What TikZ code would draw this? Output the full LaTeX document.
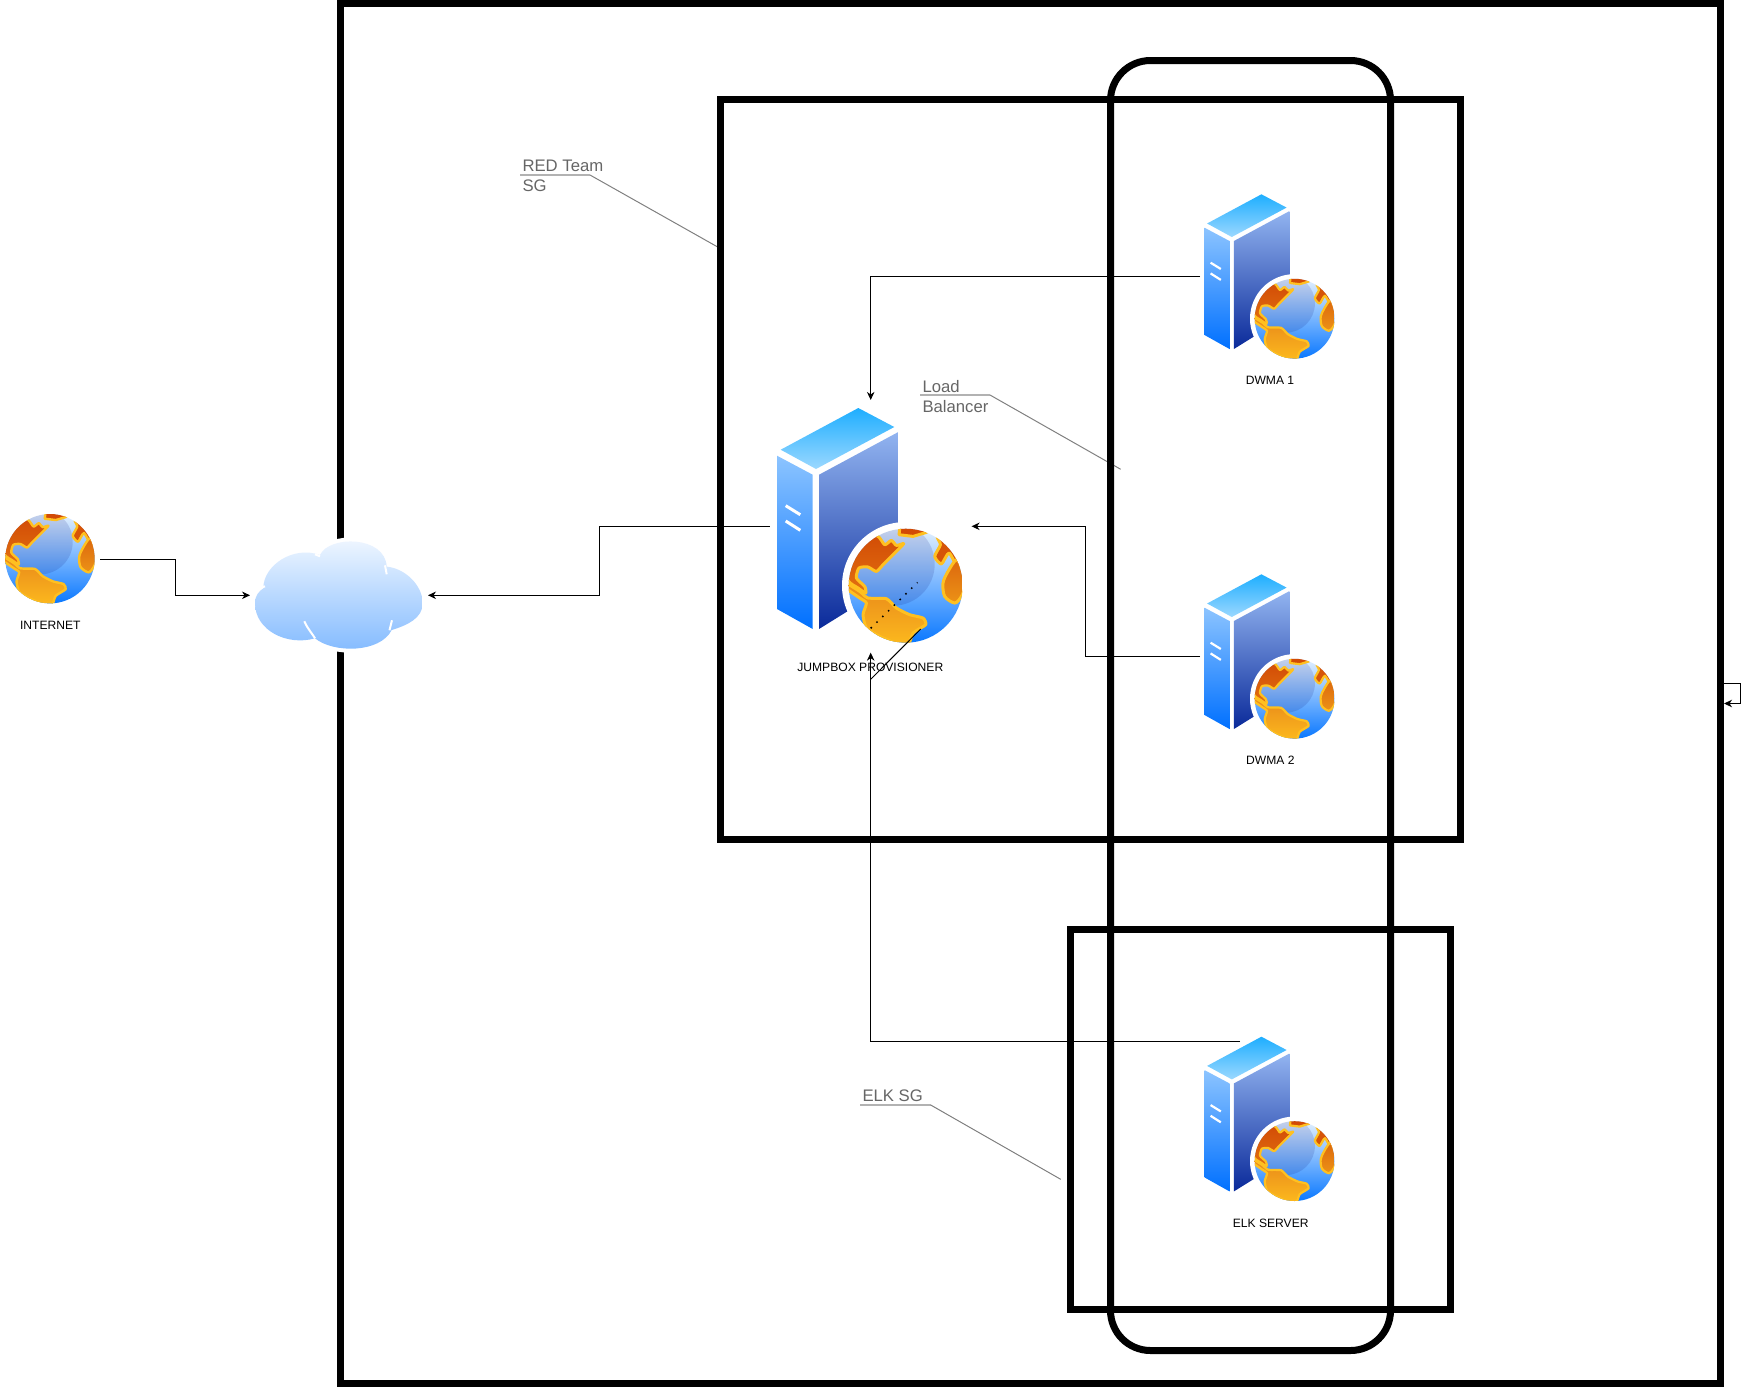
\documentclass[tikz,border=0pt]{standalone}
\usepackage{fontspec}
\setmainfont{Liberation Sans}
\usetikzlibrary{arrows.meta}

\definecolor{globetop}{HTML}{E2F0FF}
\definecolor{globemid}{HTML}{66AEFF}
\definecolor{globebot}{HTML}{0A78FF}
\definecolor{landrim}{HTML}{FFC020}
\definecolor{notegray}{HTML}{666666}

\tikzset{
	framebox/.style={draw,line width=7pt,inner sep=0pt},
	portbox/.style={inner sep=0pt,outer sep=0pt},
	iconlabel/.style={font=\fontsize{12.1}{14}\selectfont,inner sep=0pt},
	notelabel/.style={font=\fontsize{16.7}{20}\selectfont,text=notegray,align=left,anchor=north west,inner sep=0pt},
	link/.style={line width=1pt,-{Stealth[length=8pt,width=7.5pt,inset=2.5pt]}},
	calloutbar/.style={draw=black!30,line width=2pt},
	calloutlead/.style={draw=black!50,line width=1pt},
	pics/earth/.style={code={
		\shade[top color=globetop,middle color=globemid,bottom color=globebot] (0,0) circle (57);
		\begin{scope}
			\clip (0,0) circle (57);
			\fill[black!60!blue,opacity=.13] (-12.7,-21.7) circle (41.7);
			\shadedraw[draw=landrim,line width=#1,line join=round,top color={rgb,255:red,208;green,72;blue,5},bottom color={rgb,255:red,226;green,112;blue,16}] plot[smooth cycle,tension=.4] coordinates {(-27.7,-49.3) (-21,-41) (-14.3,-45.3) (-9.3,-40.3) (-2,-42) (-12.7,-31) (-22.7,-21) (-29.3,-14.3) (-37.7,-18.7) (-46.7,-17.7) (-49.3,-7.7) (-41,.7) (-40,7.3) (-47.7,2.3) (-57,-4.3) (-62,-20) (-45,-55)};
			\filldraw[draw=landrim,line width=#1,line join=round,fill={rgb,255:red,210;green,74;blue,5}] (-6,-63) -- (-6,-57) -- (-6.7,-51) -- (7.3,-49.3) -- (20.7,-53.3) -- (17,-63) -- cycle;
			\filldraw[draw=landrim,line width=#1,line join=round,fill={rgb,255:red,214;green,84;blue,8}] plot[smooth cycle,tension=.4] coordinates {(31.3,-49.3) (34.7,-41) (29,-29.3) (35.7,-21.7) (43.3,-32.7) (52,-19) (60,-26) (54,-49) (37,-56)};
			\shadedraw[draw=landrim,line width=#1,top color={rgb,255:red,220;green,104;blue,14},bottom color={rgb,255:red,236;green,146;blue,22}] plot[smooth cycle,tension=.5] coordinates {(50.7,-26) (42.3,-14.3) (37.3,-2.7) (39,10.7) (49,17.3) (55.7,10.7) (60,-2.7) (56,-17.7)};
			\shadedraw[draw=landrim,line width=#1,line join=round,top color={rgb,255:red,232;green,136;blue,26},bottom color={rgb,255:red,253;green,187;blue,30}] plot[smooth cycle,tension=.35] coordinates {(-60,-2.7) (-46,5.7) (-37.7,12.3) (-19.3,13) (-9.3,22.3) (4,29) (17.3,32.3) (20,39) (7.3,47.3) (.7,61) (-26,50.7) (-39.3,42.3) (-42.7,29) (-39.3,17.3) (-46,12.3) (-60,2.3)};
		\end{scope}
	}},
	pics/serverglobe/.style args={#1/#2}{code={
		\shade[top color={rgb,255:red,30;green,174;blue,255},bottom color={rgb,255:red,155;green,216;blue,255}] (3.7,41.7) -- (81.3,0) -- (117.3,19) -- (39,61) -- cycle;
		\shade[top color={rgb,255:red,140;green,196;blue,255},bottom color={rgb,255:red,0;green,112;blue,255}] (0,47.7) -- (35.7,66.7) -- (35.7,221) -- (0,201) -- cycle;
		\shade[top color={rgb,255:red,146;green,180;blue,240},bottom color={rgb,255:red,10;green,42;blue,154}] (42,66.7) -- (121.3,24) -- (121.3,171.7) -- (42,221) -- cycle;
		\draw[white,line width=#1 pt] (8.7,97.7) -- (23.3,106.7);
		\draw[white,line width=#1 pt] (8.7,113) -- (23.3,122.3);
		\fill[white] (128.7,177.7) circle (63.7);
		\pic[scale=#2] at (128.7,177.7) {earth=#1};
	}},
	pics/cloudshape/.style={code={
		\shade[preaction={draw=white,line width=8pt},top color={rgb,255:red,242;green,248;blue,255},bottom color={rgb,255:red,130;green,186;blue,255}]
			(-75.7,-7) .. controls (-75.7,-30) and (-45.7,-50) .. (-19,-40.3)
			.. controls (-10,-60) and (46,-60) .. (47.7,-28.7)
			.. controls (66,-27) and (83.7,-10) .. (83.7,8)
			.. controls (83.7,23) and (68,30) .. (52.7,34.7)
			.. controls (41,58) and (-5.7,58) .. (-24,43)
			.. controls (-52,51) and (-84,35) .. (-84,8)
			.. controls (-84,0) and (-80,-4) .. (-75.7,-7) -- cycle;
		\draw[white,line width=2pt] (-79,-7) -- (-74,-9);
		\draw[white,line width=2pt] (-24,-41) -- (-19,-39);
		\draw[white,line width=2pt] (46,-30) -- (47.7,-21);
		\draw[white,line width=2pt] (53,25) -- (50.5,35);
		\draw[white,line width=2pt] (-34.7,26) .. controls (-31,34) and (-27,38) .. (-24,43);
	}}
}

\begin{document}
\begin{tikzpicture}[x=1pt,y=-1pt]
	\useasboundingbox (0,0) rectangle (1750,1387);

	\node[portbox,minimum width=100pt,minimum height=100pt] (internet) at (50,559.3) {};
	\node[portbox,minimum width=178pt,minimum height=110pt] (cloudgate) at (339,595.3) {};
	\node[portbox,minimum width=201.7pt,minimum height=252.7pt] (jumpbox) at (870.7,526.3) {};
	\node[portbox,minimum width=141pt,minimum height=177pt] (dwmaone) at (1270.7,276.7) {};
	\node[portbox,minimum width=141pt,minimum height=177pt] (dwmatwo) at (1270.7,656.7) {};
	\node[portbox,minimum width=141pt,minimum height=177pt] (elkserver) at (1270.7,1119.5) {};

	\coordinate (elkport) at (1240,1041);
	\coordinate (redknee) at (590,175);
	\coordinate (redbar) at (520,175);
	\coordinate (redtip) at (720,248.3);
	\coordinate (loadknee) at (990,395);
	\coordinate (loadbar) at (920,395);
	\coordinate (loadtip) at (1120.7,469.3);
	\coordinate (elkknee) at (930.7,1105);
	\coordinate (elkbar) at (860,1105);
	\coordinate (elktip) at (1060.7,1179.3);

	\draw[link] (internet.east) -- ++(75.3,0) |- (cloudgate.west);
	\draw[link] (jumpbox.west) -- ++(-170.5,0) |- (cloudgate.east);
	\draw[link] (dwmaone.west) -| (jumpbox.north);
	\draw[link] (dwmatwo.west) -- ++(-114.3,0) |- (jumpbox.east);
	\draw[link] (elkport) -| (jumpbox.south);

	\draw[calloutbar] (redbar) -- (redknee);
	\draw[calloutlead] (redknee) -- (redtip);
	\draw[calloutbar] (loadbar) -- (loadknee);
	\draw[calloutlead] (loadknee) -- (loadtip);
	\draw[calloutbar] (elkbar) -- (elkknee);
	\draw[calloutlead] (elkknee) -- (elktip);

	\node[framebox,minimum width=1380pt,minimum height=1380pt] (outerbox) at (1030.5,693.5) {};
	\node[framebox,minimum width=740pt,minimum height=740pt] (redbox) at (1090.5,469.5) {};
	\node[framebox,minimum width=380pt,minimum height=380pt] (elkbox) at (1260.5,1119.5) {};
	\node[framebox,rounded corners=40pt,minimum width=280pt,minimum height=1290pt] (balancerbox) at (1250.5,705.5) {};

	\draw[link] ([yshift=10pt]outerbox.east) -- ++(16.7,0) |- ([yshift=-10pt]outerbox.east);

	\pic at (339,595.3) {cloudshape};
	\pic[scale=.784] at (50,558.7) {earth=2.4};
	\pic at (777,408) {serverglobe=3/1};
	\pic[scale=.7] at (1204.5,194.3) {serverglobe=2.2/.7};
	\pic[scale=.7] at (1204.5,574.3) {serverglobe=2.2/.7};
	\pic[scale=.7] at (1204.5,1036.7) {serverglobe=2.2/.7};

	\node[iconlabel] (internetlabel) at (50.3,625.7) {INTERNET};
	\node[iconlabel] (jumplabel) at (870.3,667.3) {JUMPBOX PROVISIONER};
	\node[iconlabel] (dwmaonelabel) at (1270,380.7) {DWMA 1};
	\node[iconlabel] (dwmatwolabel) at (1270.3,760.7) {DWMA 2};
	\node[iconlabel] (elklabel) at (1270.7,1223.3) {ELK SERVER};

	\node[notelabel] (rednote) at (522.3,160) {RED Team\\SG};
	\node[notelabel] (loadnote) at (922.3,380) {Load\\Balancer};
	\node[notelabel] (elknote) at (862.3,1089.7) {ELK SG};

	\coordinate (linkstart) at (870.7,679.3);
	\coordinate (linkbend) at (920.7,629);
	\coordinate (dotstart) at (870.7,628.3);
	\coordinate (dotend) at (917.5,582.5);
	\draw[line width=1pt] (linkstart) -- (linkbend);
	\draw[line width=1.5pt,dash pattern=on 1.5pt off 6.6pt] (dotstart) -- (dotend);
\end{tikzpicture}
\end{document}
